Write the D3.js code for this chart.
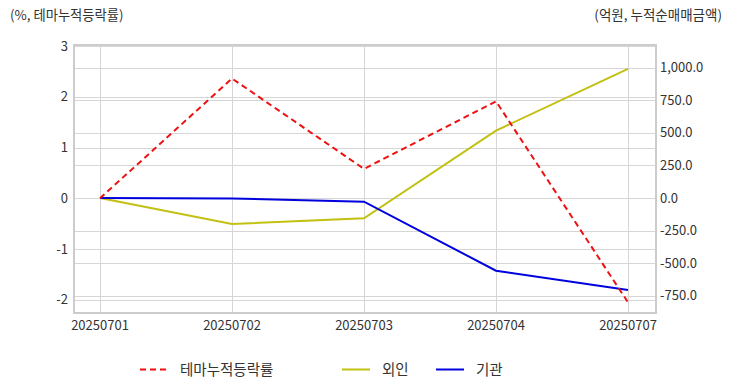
<!DOCTYPE html>
<html><head><meta charset="utf-8">
<script src="https://cdn.jsdelivr.net/npm/d3@7"></script>
<style>body{margin:0;background:#fff}svg{display:block}text{font-family:"Noto Sans CJK KR","Noto Sans",sans-serif}</style>
</head><body><svg id="c" width="732" height="392"></svg>
<script>
const categories = ["20250701","20250702","20250703","20250704","20250707"];
const themeRate = [0, 2.36, 0.58, 1.91, -2.05];
const foreign = [0, -200, -156, 518, 992];
const institution = [0, -4, -28, -559, -708];
const leftTicks = [-2,-1,0,1,2,3];
const rightTicks = [-750,-500,-250,0,250,500,750,1000];

const svg = d3.select("#c");
const L=74, R=656, T=45, B=313;
const x = d3.scalePoint().domain(categories).range([100,628]);
const yL = d3.scaleLinear().domain([-2.26,3.02]).range([B,T]);
const yR = d3.scaleLinear().domain([-884,1176]).range([B,T]);

// grid
const g = svg.append("g");
g.selectAll(".hl").data(leftTicks).join("line").attr("x1",L).attr("x2",R)
 .attr("y1",d=>Math.round(yL(d))+0.5).attr("y2",d=>Math.round(yL(d))+0.5).attr("stroke","#d6d6d6");
g.selectAll(".hr").data(rightTicks).join("line").attr("x1",L).attr("x2",R)
 .attr("y1",d=>Math.round(yR(d))+0.5).attr("y2",d=>Math.round(yR(d))+0.5).attr("stroke","#d6d6d6");
g.selectAll(".v").data(categories).join("line").attr("y1",T).attr("y2",B)
 .attr("x1",d=>Math.round(x(d))+0.5).attr("x2",d=>Math.round(x(d))+0.5).attr("stroke","#d6d6d6");
svg.append("rect").attr("x",L).attr("y",T).attr("width",R-L).attr("height",B-T)
 .attr("fill","none").attr("stroke","#cccccc").attr("stroke-width",2);

// axes labels
const fs = "13px";
svg.append("g").selectAll("text").data(leftTicks).join("text")
 .attr("x",68).attr("y",d=>yL(d)).attr("dy","0.35em").attr("text-anchor","end")
 .attr("font-size",fs).attr("fill","#333").text(d=>d);
svg.append("g").selectAll("text").data(rightTicks).join("text")
 .attr("x",660).attr("y",d=>yR(d)).attr("dy","0.35em").attr("text-anchor","start")
 .attr("font-size",fs).attr("fill","#333").text(d=>d3.format(",.1f")(d).replace("−","-"));
svg.append("g").selectAll("text").data(categories).join("text")
 .attr("x",d=>x(d)).attr("y",330).attr("text-anchor","middle")
 .attr("font-size",fs).attr("fill","#333").text(d=>d);
svg.append("text").attr("x",10).attr("y",20).attr("font-size","13.3px").attr("fill","#333").text("(%, 테마누적등락률)");
svg.append("text").attr("x",722).attr("y",20).attr("text-anchor","end").attr("font-size","13.5px").attr("fill","#333").text("(억원, 누적순매매금액)");

// lines
const series = [
 {name:"외인", vals:foreign, y:yR, color:"#c2c010", dash:null},
 {name:"기관", vals:institution, y:yR, color:"#0000dd", dash:null},
 {name:"테마누적등락률", vals:themeRate, y:yL, color:"#ee1111", dash:"6,4"}
];
series.forEach(s=>{
 const line = d3.line().x((d,i)=>x(categories[i])).y(d=>s.y(d));
 svg.append("path").datum(s.vals).attr("d",line).attr("fill","none")
  .attr("stroke",s.color).attr("stroke-width",2).attr("stroke-dasharray",s.dash);
});

// legend
const leg = [
 {name:"테마누적등락률", color:"#ee1111", dash:"6,4", x:140},
 {name:"외인", color:"#c2c010", dash:null, x:342},
 {name:"기관", color:"#0000dd", dash:null, x:436}
];
leg.forEach(l=>{
 svg.append("line").attr("x1",l.x).attr("x2",l.x+28).attr("y1",369.5).attr("y2",369.5)
  .attr("stroke",l.color).attr("stroke-width",2).attr("stroke-dasharray",l.dash);
 svg.append("text").attr("x",l.x+40).attr("y",370).attr("dy","0.35em").attr("font-size","14.5px").attr("fill","#333").text(l.name);
});
</script></body></html>
